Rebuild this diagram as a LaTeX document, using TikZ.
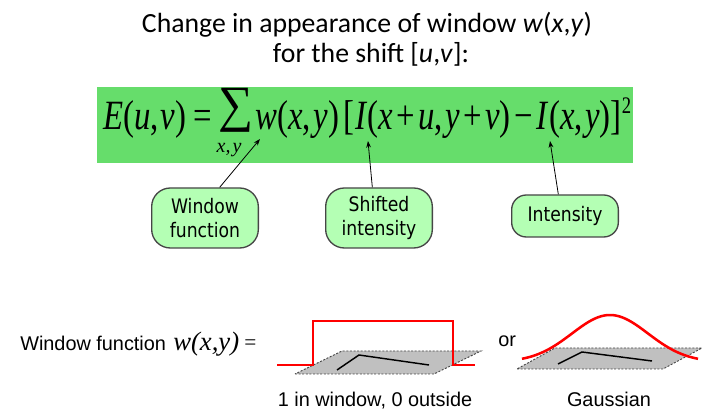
\documentclass[tikz,border=0pt]{standalone}
\usepackage{fontspec}
\setmainfont{Liberation Sans}
\newfontfamily\titlefont{Carlito}
\newfontfamily\tms{Liberation Serif}
\newfontfamily\bubblefont[FakeStretch=0.86]{DejaVu Sans}
\usetikzlibrary{arrows.meta}
\definecolor{eqgreen}{RGB}{102,221,107}
\definecolor{bubgreen}{RGB}{180,255,180}
\definecolor{bubedge}{RGB}{70,70,70}
\definecolor{planegray}{RGB}{192,192,192}
\definecolor{planeedge}{RGB}{70,70,70}
\definecolor{wred}{RGB}{255,0,0}
\tikzset{
  bubble/.style={draw=bubedge, line width=1pt, fill=bubgreen, rounded corners=14pt, align=center,
    font=\bubblefont\fontsize{15}{17.5}\selectfont, minimum width=80pt, inner sep=2pt},
  arr/.style={line width=0.6pt, -{Stealth[length=5pt,width=3.6pt]}},
  plane/.style={draw=planeedge, fill=planegray, dash pattern=on 1.5pt off 1.2pt, line width=0.7pt},
  redline/.style={draw=wred, line width=1.9pt},
  blackline/.style={draw=black, line width=1.1pt},
  lbl/.style={font=\fontsize{14.9}{17}\selectfont, inner sep=0pt}
}
\newcommand{\hs}[1]{\hspace{#1em}}
\begin{document}
\begin{tikzpicture}[x=0.75pt,y=-0.75pt]
\useasboundingbox (0,0) rectangle (719,416);
% title
\node[font=\titlefont\fontsize{20.8}{24}\selectfont, anchor=base, inner sep=0] (t1) at (367,33) {Change in appearance of window \textit{w}(\textit{x},\textit{y})};
\node[font=\titlefont\fontsize{20.8}{24}\selectfont, anchor=base, inner sep=0] (t2) at (371,63) {for the shift [\textit{u},\textit{v}]:};
% equation box
\node[fill=eqgreen, inner sep=0, minimum width=402pt, minimum height=57pt] (eqbox) at (365,125) {};
\node[anchor=base west, inner sep=0, font=\tms\fontsize{24.6}{26}\selectfont] (eq) at (103,130)
 {\scalebox{1}[1.27]{\textit{E}(\textit{u},\hs{0.05}\textit{v})\hs{0.22}=\hs{0.22}\raisebox{0.2em}{\scalebox{1.5}[1.22]{∑}}\hs{0.05}\textit{w}(\textit{x},\hs{0.08}\textit{y})\hs{0.12}[\hs{0.04}\textit{I}(\textit{x}\hs{0.1}+\hs{0.1}\textit{u},\hs{0.08}\textit{y}\hs{0.1}+\hs{0.1}\textit{v})\hs{0.12}−\hs{0.12}\textit{I}(\textit{x},\hs{0.08}\textit{y})]\raisebox{0.4em}{\fontsize{14}{14}\selectfont 2}}};
\node[inner sep=0, font=\tms\itshape\fontsize{15}{15}\selectfont, anchor=base] (sub) at (229,153) {x,\hspace{0.1em}y};
% arrow tips
\coordinate (tipw) at (260,139);
\coordinate (tips) at (368,141);
\coordinate (tipi) at (550,141);
% bubbles
\node[bubble, minimum height=45pt] (b1) at (205,218) {Window\\function};
\node[bubble, minimum height=45pt] (b2) at (379,218) {Shifted\\intensity};
\node[bubble, minimum height=31.5pt, rounded corners=11pt] (b3) at (565,216) {Intensity};
\draw[arr] ([xshift=11pt]b1.north) -- (tipw);
\draw[arr] ([xshift=-5pt]b2.north) -- (tips);
\draw[arr] ([xshift=-5pt]b3.north) -- (tipi);
% bottom left label
\node[lbl, anchor=base west] (wf) at (20,351) {Window function};
\node[inner sep=0, anchor=base west, font=\tms\itshape\fontsize{20}{22}\selectfont] (wxy) at (173,351) {w(x,y)};
\node[inner sep=0, anchor=base west, font=\tms\fontsize{16}{16}\selectfont] (eqs) at (244,350) {=};
% box window
\path[plane] (295,374) -- (434,374) -- (481,351) -- (342,351) -- cycle;
\draw[blackline] (337,370) -- (359,355) -- (429,365);
\draw[redline] (277,365) -- (313,365) -- (313,321) -- (453,321) -- (453,365) -- (475,365);
\node[lbl, anchor=base] (l1) at (375,407) {1 in window, 0 outside};
% or
\node[lbl, anchor=base west] (or) at (498,347) {or};
% gaussian window
\path[plane] (517,369) -- (663,369) -- (702,348) -- (555,348) -- cycle;
\draw[blackline] (558,364) -- (582,352) -- (652,361);
\draw[redline, smooth, samples=60, domain=522:698] plot ({\x},{362-47*exp(-((\x-610)*(\x-610))/2888)});
\node[lbl, anchor=base] (l2) at (609,407) {Gaussian};
\end{tikzpicture}
\end{document}
